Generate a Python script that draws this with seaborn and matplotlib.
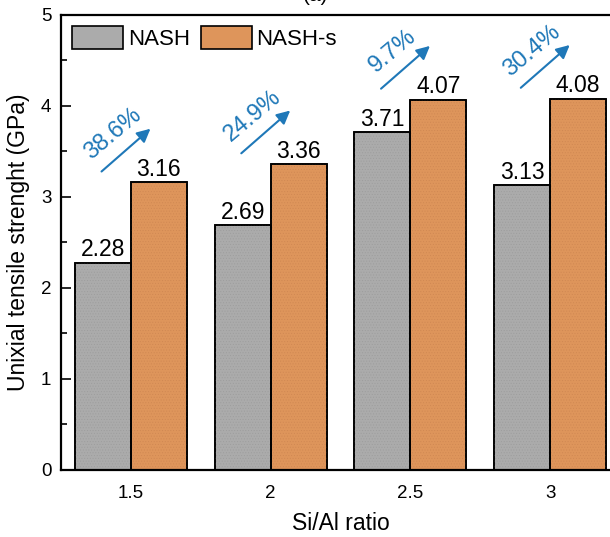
import matplotlib
matplotlib.use("Agg")
import matplotlib.pyplot as plt
from matplotlib.patches import Rectangle
from matplotlib.ticker import MultipleLocator
import numpy as np
import pandas as pd
import seaborn as sns

# Uniaxial tensile strength for each Si/Al ratio
ratios = ["1.5", "2", "2.5", "3"]
nash = [2.28, 2.69, 3.71, 3.13]
nash_s = [3.16, 3.36, 4.07, 4.08]
series_names = ["NASH", "NASH-s"]

sns.set_theme(style="ticks")
plt.rcParams["font.family"] = ["Liberation Sans", "DejaVu Sans"]
plt.rcParams.update({
    "hatch.linewidth": 0.35,
    "text.color": "black",
    "axes.labelcolor": "black",
    "xtick.color": "black",
    "ytick.color": "black",
})

df = pd.DataFrame({
    "ratio": ratios * 2,
    "series": [series_names[0]] * len(ratios) + [series_names[1]] * len(ratios),
    "value": nash + nash_s,
})

gray = "#ababab"
orange = "#de955b"
blue = "#1f78b8"
grain = {gray: "#9c9c9c", orange: "#cf8752"}

fig = plt.figure(figsize=(6.10, 5.37), dpi=100)
ax = fig.add_axes([0.1, 0.1248, 0.9164, 0.8473])

sns.barplot(data=df, x="ratio", y="value", hue="series", order=ratios,
            hue_order=series_names, palette=[gray, orange], width=0.8,
            edgecolor="black", linewidth=1.2, saturation=1, ax=ax)

# fine grain texture over each bar
for cont, col in zip(ax.containers, [gray, orange]):
    for p in cont.patches:
        ax.add_patch(Rectangle(p.get_xy(), p.get_width(), p.get_height(),
                               facecolor="none", edgecolor=grain[col],
                               linewidth=0, hatch="......", zorder=p.get_zorder() + 0.1))
        ax.add_patch(Rectangle(p.get_xy(), p.get_width(), p.get_height(),
                               facecolor="none", edgecolor="black",
                               linewidth=1.2, zorder=p.get_zorder() + 0.2))

ax.set_ylim(0, 5)
ax.set_xlim(-0.5, 3.5)
ax.yaxis.set_major_locator(MultipleLocator(1))
ax.yaxis.set_minor_locator(MultipleLocator(0.5))
ax.tick_params(axis="y", which="major", direction="in", length=7.5, width=1.2,
               labelsize=13.5, pad=7)
ax.tick_params(axis="y", which="minor", direction="in", length=4.5, width=1.2)
ax.tick_params(axis="x", length=0, labelsize=13.5, pad=11)

for side in ["left", "bottom", "top"]:
    ax.spines[side].set_linewidth(1.6)
    ax.spines[side].set_color("black")
ax.spines["right"].set_visible(False)

ax.set_xlabel("Si/Al ratio", fontsize=16.5, labelpad=7)
ax.set_ylabel("Unixial tensile strenght (GPa)", fontsize=16.5, labelpad=8)

# value labels on top of each bar
for cont in ax.containers:
    ax.bar_label(cont, fmt="%.2f", fontsize=16.5, padding=1, color="black")

# percentage increase arrows
for i, (a, b) in enumerate(zip(nash, nash_s)):
    pct = (b - a) / a * 100
    base = b + 0.12
    ax.annotate("", xy=(i + 0.14, base + 0.47), xytext=(i - 0.21, base),
                arrowprops=dict(arrowstyle="-|>", color=blue, lw=1.5,
                                mutation_scale=20, shrinkA=0, shrinkB=0))
    ax.text(i - 0.13, base + 0.41, f"{pct:.1f}%", color=blue, fontsize=17,
            rotation=40, ha="center", va="center", rotation_mode="anchor")

leg = ax.legend(loc="upper left", bbox_to_anchor=(0.02, 0.975), ncol=2,
                frameon=False, fontsize=16, handlelength=2.3, handleheight=1.2,
                handletextpad=0.2, columnspacing=0.5, borderpad=0,
                borderaxespad=0)
for t in leg.get_texts():
    t.set_color("black")

fig.text(0.518, 0.999, "(a)", fontsize=15, ha="center", va="baseline")

fig.savefig("out.png", dpi=100)
